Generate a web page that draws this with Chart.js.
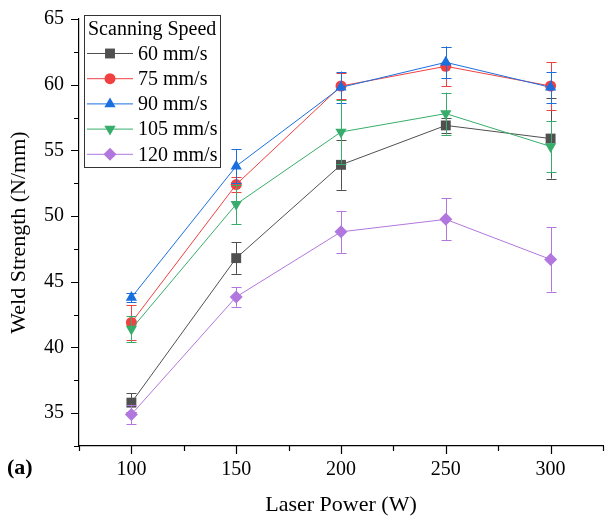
<!DOCTYPE html>
<html>
<head>
<meta charset="utf-8">
<script src="https://cdn.jsdelivr.net/npm/chart.js@4.4.0/dist/chart.umd.min.js"></script>
<style>
  html, body { margin: 0; padding: 0; background: #fff; }
  #wrap { width: 610px; height: 524px; position: relative; }
</style>
</head>
<body>
<div id="wrap"><canvas id="chart"></canvas></div>
<script>
// DATA
const power = [100, 150, 200, 250, 300];
const speedLabels = ["60 mm/s", "75 mm/s", "90 mm/s", "105 mm/s", "120 mm/s"];

const s60 = [35.8, 46.8, 53.9, 56.9, 55.9];
const s75 = [41.9, 52.4, 59.9, 61.4, 59.9];
const s90 = [43.8, 53.8, 59.8, 61.7, 59.8];
const s105 = [41.4, 50.9, 56.4, 57.8, 55.3];
const s120 = [34.9, 43.85, 48.8, 49.75, 46.7];

const e60 = [0.7, 1.2, 1.9, 0.6, 3.05];
const e75 = [1.3, 0.6, 1.0, 1.5, 1.8];
const e90 = [0.35, 1.3, 1.2, 1.2, 1.2];
const e105 = [1.0, 1.5, 2.4, 1.6, 1.95];
const e120 = [0.75, 0.75, 1.6, 1.6, 2.45];

const colors = ["#505050", "#F14040", "#1A6FDF", "#37AD6B", "#B177DE"];
const FONT = "'Liberation Serif', 'Times New Roman', serif";

// style per seri
const styles = [
    { pointStyle: "rect", radius: 7, rotation: 0 },
    { pointStyle: "circle", radius: 5.5, rotation: 0 },
    { pointStyle: "triangle", radius: 6.5, rotation: 0 },
    { pointStyle: "triangle", radius: 6.5, rotation: 180 },
    { pointStyle: "rectRot", radius: 6.5, rotation: 0 }
];

const values = [s60, s75, s90, s105, s120];
const errors = [e60, e75, e90, e105, e120];

const datasets = values.map((vals, i) => ({
    label: speedLabels[i],
    data: vals.map((v, j) => ({ x: power[j], y: v })),
    errors: errors[i],
    borderColor: colors[i],
    backgroundColor: colors[i],
    borderWidth: 1,
    pointStyle: styles[i].pointStyle,
    pointRadius: styles[i].radius,
    pointRotation: styles[i].rotation,
    pointBorderWidth: 0,
    pointHoverRadius: styles[i].radius,
    tension: 0,
    fill: false,
    order: 4 - i
}))

// ERROR BAR
const errorBars = {
    id: "errorBars",
    beforeDatasetDraw(chart, args) {
        const ds = chart.data.datasets[args.index];
        const y = chart.scales.y;
        const ctx = chart.ctx;
        ctx.save();
        ctx.strokeStyle = ds.borderColor;
        ctx.lineWidth = 1;
        args.meta.data.forEach((pt, i) => {
            const v = ds.data[i].y;
            const e = ds.errors[i];
            const top = y.getPixelForValue(v + e);
            const bot = y.getPixelForValue(v - e);
            const x = Math.round(pt.x) + 0.5;
            ctx.beginPath();
            ctx.moveTo(x, top);
            ctx.lineTo(x, bot);
            ctx.moveTo(x - 5, Math.round(top) + 0.5);
            ctx.lineTo(x + 5, Math.round(top) + 0.5);
            ctx.moveTo(x - 5, Math.round(bot) + 0.5);
            ctx.lineTo(x + 5, Math.round(bot) + 0.5);
            ctx.stroke();
        });
        ctx.restore();
    }
}

// TICK MAYOR & MINOR
const axisTicks = {
    id: "axisTicks",
    afterDraw(chart) {
        const ctx = chart.ctx;
        const { x, y } = chart.scales;
        const area = chart.chartArea;
        ctx.save();
        ctx.strokeStyle = "#000";
        ctx.lineWidth = 1.2;
        ctx.beginPath();
        y.ticks.forEach(t => {
            const py = Math.round(y.getPixelForValue(t.value)) + 0.5;
            const len = t.value % 5 === 0 ? 8 : 5;
            ctx.moveTo(area.left, py);
            ctx.lineTo(area.left - len, py);
        });
        x.ticks.forEach(t => {
            const px = Math.round(x.getPixelForValue(t.value)) + 0.5;
            const len = t.value % 50 === 0 ? 8 : 5;
            ctx.moveTo(px, area.bottom);
            ctx.lineTo(px, area.bottom + len);
        });
        ctx.stroke();

        // label panel
        ctx.fillStyle = "#000";
        ctx.font = "bold 22px " + FONT;
        ctx.textBaseline = "middle";
        ctx.textAlign = "left";
        ctx.fillText("(a)", 7, 468);
        ctx.restore();
    }
}

// LEGEND
const boxLegend = {
    id: "boxLegend",
    afterDraw(chart) {
        const ctx = chart.ctx;
        const bx = 84.5, by = 15.5, bw = 136, bh = 152;
        ctx.save();
        ctx.fillStyle = "#fff";
        ctx.fillRect(bx, by, bw, bh);
        ctx.strokeStyle = "#333";
        ctx.lineWidth = 1;
        ctx.strokeRect(bx, by, bw, bh);

        ctx.fillStyle = "#000";
        ctx.font = "20px " + FONT;
        ctx.textBaseline = "middle";
        ctx.textAlign = "left";
        ctx.fillText("Scanning Speed", 88, 30);

        chart.data.datasets.forEach((ds, i) => {
            const cy = 53.5 + i * 25.2;
            ctx.strokeStyle = ds.borderColor;
            ctx.lineWidth = 1;
            ctx.beginPath();
            ctx.moveTo(87, cy);
            ctx.lineTo(133, cy);
            ctx.stroke();
            ctx.fillStyle = ds.backgroundColor;
            Chart.helpers.drawPoint(ctx, {
                pointStyle: ds.pointStyle,
                radius: ds.pointRadius,
                rotation: ds.pointRotation,
                borderWidth: 0
            }, 110, cy);
            ctx.fillStyle = "#000";
            ctx.fillText(ds.label, 138, cy + 1);
        });
        ctx.restore();
    }
}

const ctx = document.getElementById("chart");

new Chart(ctx, {
    type: "line",
    data: { datasets },
    options: {
        responsive: true,
        maintainAspectRatio: false,
        animation: false,
        layout: { padding: { top: 16, right: 1, left: 0, bottom: 0 } },
        plugins: {
            legend: { display: false },
            tooltip: { enabled: false }
        },
        scales: {
            x: {
                type: "linear",
                min: 75,
                max: 325,
                afterFit: s => { s.height = 78 },
                grid: { display: false, drawTicks: true, tickLength: 8 },
                border: { display: true, color: "#000", width: 1.2 },
                ticks: {
                    stepSize: 25,
                    autoSkip: false,
                    maxRotation: 0,
                    padding: 4,
                    color: "#000",
                    font: { family: FONT, size: 20 },
                    callback: v => v % 50 === 0 ? v : ""
                },
                title: {
                    display: true,
                    text: "Laser Power (W)",
                    color: "#000",
                    font: { family: FONT, size: 22 },
                    padding: { top: 0, bottom: 6 }
                }
            },
            y: {
                min: 32.5,
                max: 65,
                afterFit: s => { s.width = 79 },
                grid: { display: false, drawTicks: true, tickLength: 8 },
                border: { display: true, color: "#000", width: 1.2 },
                ticks: {
                    stepSize: 2.5,
                    autoSkip: false,
                    padding: 7,
                    color: "#000",
                    font: { family: FONT, size: 20 },
                    callback: v => v % 5 === 0 ? v : ""
                },
                title: {
                    display: true,
                    text: "Weld Strength (N/mm)",
                    color: "#000",
                    font: { family: FONT, size: 22 },
                    padding: { top: 6, bottom: 0 }
                }
            }
        }
    },
    plugins: [errorBars, axisTicks, boxLegend]
})
</script>
</body>
</html>
